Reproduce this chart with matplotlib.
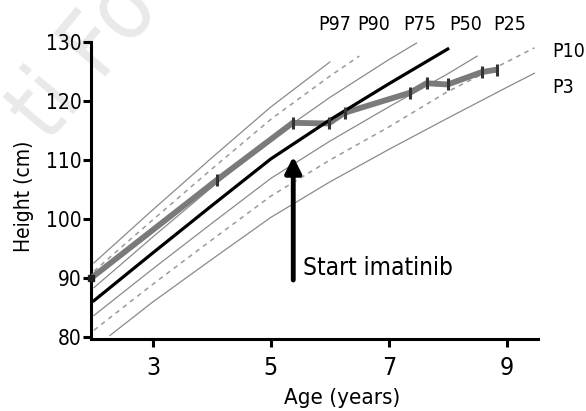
import matplotlib
matplotlib.use("Agg")
import matplotlib.pyplot as plt

plt.rcParams['font.family'] = ['DejaVu Sans']
plt.rcParams['font.stretch'] = 'condensed'

# percentile curves (age in years, height in cm)
p97_age = [2, 3, 4, 5, 6]
p97 = [92.6, 101.6, 110.4, 119.0, 126.6]
p90_age = [2, 3, 4, 5, 6, 6.5]
p90 = [91.2, 99.9, 108.5, 116.9, 124.2, 127.6]
p75_age = [2, 3, 4, 5, 6, 7, 7.47]
p75 = [88.4, 97.0, 105.4, 113.6, 120.6, 127.0, 129.8]
p50_age = [2, 3, 4, 5, 6, 7, 8]
p50 = [86.2, 94.3, 102.3, 110.2, 116.8, 122.9, 128.8]
p25_age = [2, 3, 4, 5, 6, 7, 8, 8.5]
p25 = [83.7, 91.6, 99.3, 106.9, 113.2, 119.0, 124.6, 127.6]
p10_age = [2, 3, 4, 5, 6, 7, 8, 9, 9.47]
p10 = [81.2, 89.0, 96.5, 103.9, 110.0, 115.6, 121.6, 126.6, 129.0]
p3_age = [2.27, 3, 4, 5, 6, 7, 8, 9, 9.47]
p3 = [80.3, 86.0, 93.2, 100.3, 106.3, 111.8, 117.1, 122.3, 124.7]

# patient measurements
pat_age = [1.95, 4.08, 5.37, 5.98, 6.25, 7.36, 7.64, 8.0, 8.58, 8.83]
pat_h = [90.0, 106.6, 116.3, 116.2, 118.0, 121.4, 123.0, 122.8, 124.9, 125.3]

top_labels = ['P97', 'P90', 'P75', 'P50', 'P25']
top_label_x = [6.08, 6.75, 7.52, 8.31, 9.05]
side_labels = ['P10', 'P3']
side_label_y = [128.3, 122.25]

start_age = 5.38

fig = plt.figure(figsize=(5.86, 4.11), dpi=100)
ax = fig.add_axes([0.1553, 0.175, 0.7627, 0.723])
ax.set_zorder(2)
ax.patch.set_alpha(0)

# faint watermark behind the plot
fig.text(-0.01, 0.62, 'ti Fo', fontsize=66, color='#e9e9e9',
         rotation=50, ha='left', va='bottom', zorder=0)

thin = dict(color='#8a8a8a', lw=0.9)
dash = dict(color='#9a9a9a', lw=1.1, dashes=(3, 3))
ax.plot(p97_age, p97, **thin)
ax.plot(p90_age, p90, **dash)
ax.plot(p75_age, p75, **thin)
ax.plot(p25_age, p25, **thin)
ax.plot(p10_age, p10, **dash)
ax.plot(p3_age, p3, **thin)
ax.plot(p50_age, p50, color='black', lw=2.3, zorder=4)

ax.plot(pat_age, pat_h, color='#7a7a7a', lw=4.2, zorder=3, solid_capstyle='butt')
ax.plot(pat_age[1:], pat_h[1:], ls='none', marker='|', ms=9, mew=2.2,
        color='#333333', zorder=5)
ax.plot(pat_age[:1], pat_h[:1], ls='none', marker='s', ms=5, color='#202020',
        zorder=5, clip_on=False)

ax.annotate('', xy=(start_age, 110.6), xytext=(start_age, 89.7),
            arrowprops=dict(arrowstyle='-|>', lw=3.5, color='black',
                            mutation_scale=24, shrinkA=0, shrinkB=0))
ax.text(5.54, 91.7, 'Start imatinib', fontsize=17.5, va='center', ha='left')

for lab, x in zip(top_labels, top_label_x):
    ax.text(x, 133.0, lab, fontsize=14, ha='center', va='center', clip_on=False)
for lab, y in zip(side_labels, side_label_y):
    ax.text(9.78, y, lab, fontsize=14, ha='left', va='center', clip_on=False)

ax.set_xlim(1.95, 9.53)
ax.set_ylim(79.7, 130)
ax.set_xticks([3, 5, 7, 9])
ax.set_yticks([80, 90, 100, 110, 120, 130])
ax.tick_params(axis='x', labelsize=18, width=2.2, length=6, pad=6)
ax.tick_params(axis='y', labelsize=15, width=2.2, length=6, pad=1)
for s in ['top', 'right']:
    ax.spines[s].set_visible(False)
for s in ['left', 'bottom']:
    ax.spines[s].set_linewidth(2.2)
ax.set_xlabel('Age (years)', fontsize=16)
ax.xaxis.set_label_coords(0.562, -0.163)
ax.set_ylabel('Height (cm)', fontsize=15)
ax.yaxis.set_label_coords(-0.128, 0.48)

fig.savefig('out.png', dpi=100)
